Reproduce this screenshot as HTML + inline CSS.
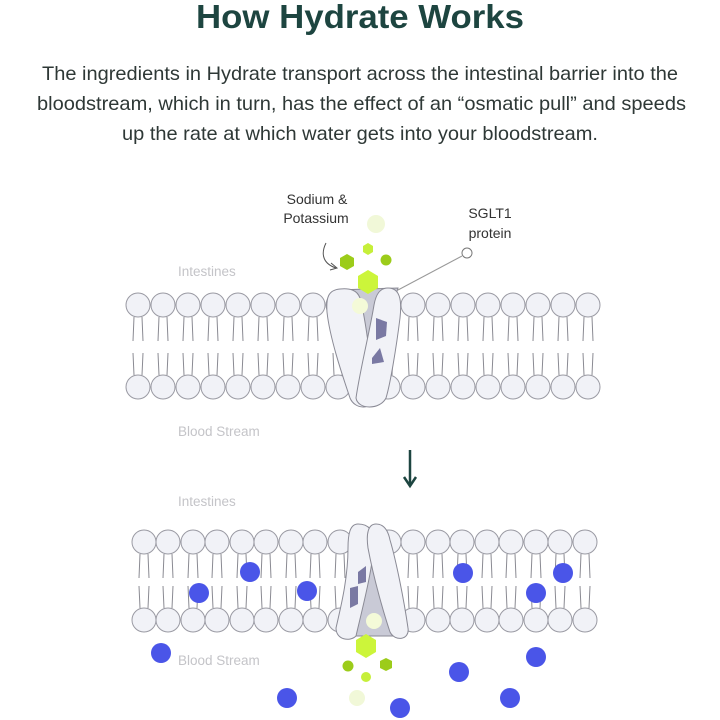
<!DOCTYPE html>
<html><head><meta charset="utf-8"><style>
html,body{margin:0;padding:0;background:#fff;width:720px;height:720px;overflow:hidden}
svg{display:block}
text{font-family:"Liberation Sans",sans-serif}
</style></head><body>
<svg width="720" height="720" viewBox="0 0 720 720" xmlns="http://www.w3.org/2000/svg">
<defs>
<g id="lipT">
  <circle cx="0" cy="0" r="12" fill="#f1f2f7" stroke="#9a9aa3" stroke-width="1"/>
  <path d="M-4 12 L-5 36 M4 12 L5 36" stroke="#8a8a92" stroke-width="1" fill="none"/>
</g>
<g id="lipB">
  <circle cx="0" cy="0" r="12" fill="#f1f2f7" stroke="#9a9aa3" stroke-width="1"/>
  <path d="M-4 -12 L-5 -34 M4 -12 L5 -34" stroke="#8a8a92" stroke-width="1" fill="none"/>
</g>
</defs>
<text x="360" y="28" text-anchor="middle" font-size="33" font-weight="bold" fill="#1d4540" textLength="328" lengthAdjust="spacingAndGlyphs">How Hydrate Works</text>
<g font-size="19.5" fill="#2e3836">
<text x="42" y="80" textLength="636" lengthAdjust="spacingAndGlyphs">The ingredients in Hydrate transport across the intestinal barrier into the</text>
<text x="37" y="110" textLength="649" lengthAdjust="spacingAndGlyphs">bloodstream, which in turn, has the effect of an “osmatic pull” and speeds</text>
<text x="122" y="140" textLength="476" lengthAdjust="spacingAndGlyphs">up the rate at which water gets into your bloodstream.</text>
</g>

<!-- TOP MEMBRANE -->
<g>
<use href="#lipT" x="138" y="305"/><use href="#lipT" x="163" y="305"/><use href="#lipT" x="188" y="305"/><use href="#lipT" x="213" y="305"/><use href="#lipT" x="238" y="305"/><use href="#lipT" x="263" y="305"/><use href="#lipT" x="288" y="305"/><use href="#lipT" x="313" y="305"/><use href="#lipT" x="338" y="305"/>
<use href="#lipT" x="388" y="305"/><use href="#lipT" x="413" y="305"/><use href="#lipT" x="438" y="305"/><use href="#lipT" x="463" y="305"/><use href="#lipT" x="488" y="305"/><use href="#lipT" x="513" y="305"/><use href="#lipT" x="538" y="305"/><use href="#lipT" x="563" y="305"/><use href="#lipT" x="588" y="305"/>
<use href="#lipB" x="138" y="387"/><use href="#lipB" x="163" y="387"/><use href="#lipB" x="188" y="387"/><use href="#lipB" x="213" y="387"/><use href="#lipB" x="238" y="387"/><use href="#lipB" x="263" y="387"/><use href="#lipB" x="288" y="387"/><use href="#lipB" x="313" y="387"/><use href="#lipB" x="338" y="387"/>
<use href="#lipB" x="388" y="387"/><use href="#lipB" x="413" y="387"/><use href="#lipB" x="438" y="387"/><use href="#lipB" x="463" y="387"/><use href="#lipB" x="488" y="387"/><use href="#lipB" x="513" y="387"/><use href="#lipB" x="538" y="387"/><use href="#lipB" x="563" y="387"/><use href="#lipB" x="588" y="387"/>
</g>
<!-- top protein -->
<path d="M336 290 L398 288 L372 380 L366 380 Z" fill="#c9cad6" stroke="#8a8a95"/>
<path d="M340 289 C328 290 326 298 327 312 C330 340 344 380 350 398 C355 410 372 410 374 398 C372 370 366 320 360 298 C357 290 350 288 340 289 Z" fill="#f1f2f7" stroke="#8a8a95"/>
<path d="M388 288 C400 288 402 300 400 318 C396 350 390 385 386 398 C380 410 358 410 356 398 C360 370 370 330 374 305 C376 294 380 288 388 288 Z" fill="#f1f2f7" stroke="#8a8a95"/>
<path d="M376 318 L387 322 L386 336 L376 340 Z" fill="#7a79a3"/>
<path d="M372 358 L380 348 L384 362 L372 364 Z" fill="#7a79a3"/>
<circle cx="360" cy="306" r="8" fill="#f4fad8"/>
<polygon points="368,270 378,276 378,288 368,294 358,288 358,276" fill="#ccf53a"/>
<polygon points="347,254 354,258 354,266 347,270 340,266 340,258" fill="#9ccc1a"/>
<circle cx="386" cy="260" r="5.5" fill="#9ccc1a"/>
<polygon points="368,243 373,246 373,252 368,255 363,252 363,246" fill="#c6ef3a"/>
<circle cx="376" cy="224" r="9" fill="#f1f8d8"/>
<text x="317" y="204" text-anchor="middle" font-size="14" fill="#333">Sodium &amp;</text>
<text x="316" y="223" text-anchor="middle" font-size="14" fill="#333">Potassium</text>
<path d="M326 243 C320 255 324 264 336 268" stroke="#555" fill="none" stroke-width="1"/>
<path d="M331 263 L337 268 L330 270" stroke="#555" fill="none" stroke-width="1"/>
<text x="490" y="218" text-anchor="middle" font-size="14" fill="#333">SGLT1</text>
<text x="490" y="238" text-anchor="middle" font-size="14" fill="#333">protein</text>
<line x1="398" y1="290" x2="462" y2="256" stroke="#999" stroke-width="1"/>
<circle cx="467" cy="253" r="5" fill="#fff" stroke="#777"/>
<text x="178" y="276" font-size="13.5" fill="#c4c4c8">Intestines</text>
<text x="178" y="436" font-size="13.5" fill="#c4c4c8">Blood Stream</text>
<line x1="410" y1="450" x2="410" y2="484" stroke="#1d4540" stroke-width="2.5"/>
<path d="M404 477 L410 486 L416 477" stroke="#1d4540" stroke-width="2.5" fill="none"/>
<text x="178" y="506" font-size="13.5" fill="#c4c4c8">Intestines</text>

<!-- BOTTOM MEMBRANE -->
<g>
<use href="#lipT" x="144" y="542"/><use href="#lipT" x="168" y="542"/><use href="#lipT" x="193" y="542"/><use href="#lipT" x="217" y="542"/><use href="#lipT" x="242" y="542"/><use href="#lipT" x="266" y="542"/><use href="#lipT" x="291" y="542"/><use href="#lipT" x="315" y="542"/><use href="#lipT" x="340" y="542"/>
<use href="#lipT" x="389" y="542"/><use href="#lipT" x="413" y="542"/><use href="#lipT" x="438" y="542"/><use href="#lipT" x="462" y="542"/><use href="#lipT" x="487" y="542"/><use href="#lipT" x="511" y="542"/><use href="#lipT" x="536" y="542"/><use href="#lipT" x="560" y="542"/><use href="#lipT" x="585" y="542"/>
<use href="#lipB" x="144" y="620"/><use href="#lipB" x="168" y="620"/><use href="#lipB" x="193" y="620"/><use href="#lipB" x="217" y="620"/><use href="#lipB" x="242" y="620"/><use href="#lipB" x="266" y="620"/><use href="#lipB" x="291" y="620"/><use href="#lipB" x="315" y="620"/><use href="#lipB" x="340" y="620"/>
<use href="#lipB" x="389" y="620"/><use href="#lipB" x="413" y="620"/><use href="#lipB" x="438" y="620"/><use href="#lipB" x="462" y="620"/><use href="#lipB" x="487" y="620"/><use href="#lipB" x="511" y="620"/><use href="#lipB" x="536" y="620"/><use href="#lipB" x="560" y="620"/><use href="#lipB" x="585" y="620"/>
</g>
<path d="M342 636 L405 636 L378 556 L368 556 Z" fill="#c9cad6" stroke="#8a8a95"/>
<path d="M358 524 C350 524 348 534 348 548 C348 580 340 610 336 628 C336 640 350 642 356 636 C362 610 372 572 374 545 C375 530 368 524 358 524 Z" fill="#f1f2f7" stroke="#8a8a95"/>
<path d="M376 524 C368 524 366 534 368 548 C374 580 384 614 390 632 C395 642 410 640 408 628 C404 600 396 560 390 540 C388 530 384 524 376 524 Z" fill="#f1f2f7" stroke="#8a8a95"/>
<path d="M358 572 L366 566 L366 582 L358 584 Z" fill="#7a79a3"/>
<path d="M350 588 L358 586 L358 604 L350 608 Z" fill="#7a79a3"/>
<circle cx="374" cy="621" r="8" fill="#f4fad8"/>
<polygon points="366,634 376,640 376,652 366,658 356,652 356,640" fill="#ccf53a"/>
<circle cx="348" cy="666" r="5.5" fill="#9ccc1a"/>
<polygon points="386,658 392,661 392,668 386,671 380,668 380,661" fill="#9ccc1a"/>
<circle cx="366" cy="677" r="5" fill="#c6ef3a"/>
<circle cx="357" cy="698" r="8" fill="#f1f8d8"/>
<text x="178" y="665" font-size="13.5" fill="#c4c4c8">Blood Stream</text>
<g fill="#4a55e8">
<circle cx="250" cy="572" r="10"/><circle cx="199" cy="593" r="10"/><circle cx="307" cy="591" r="10"/>
<circle cx="463" cy="573" r="10"/><circle cx="563" cy="573" r="10"/><circle cx="536" cy="593" r="10"/>
<circle cx="161" cy="653" r="10"/><circle cx="459" cy="672" r="10"/><circle cx="536" cy="657" r="10"/>
<circle cx="287" cy="698" r="10"/><circle cx="400" cy="708" r="10"/><circle cx="510" cy="698" r="10"/>
</g>
</svg>
</body></html>
